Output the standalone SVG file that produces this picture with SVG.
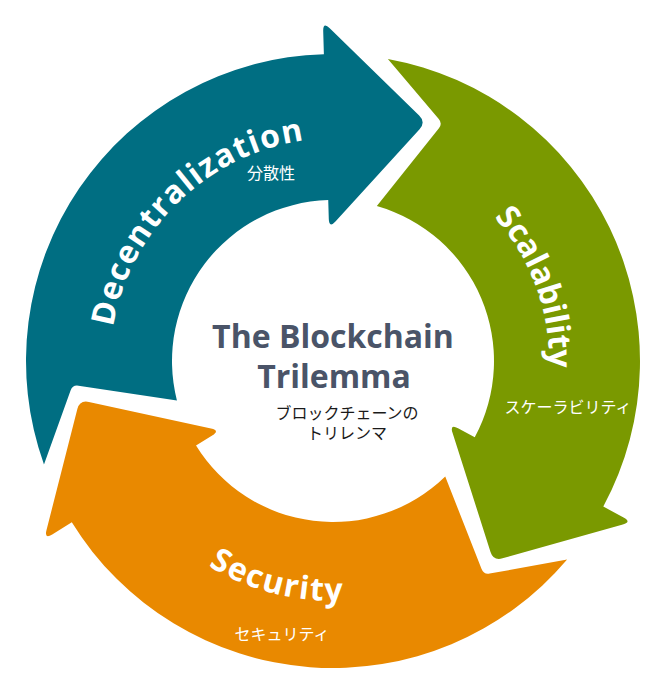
<svg xmlns="http://www.w3.org/2000/svg" width="672" height="692" viewBox="0 0 672 692">
<defs>
<path id="arrow" d="M -291.97 94.87 A 307 307 0 0 1 0 -307 L 0 -330 Q 0 -339.5 6.6 -332.7 L 93.4 -242.8 Q 100 -236 93.4 -229.2 L 6.6 -139.3 Q 0 -132.5 0 -142 L 0 -161 A 161 161 0 0 0 -157.18 34.85 L -255.1 17.07 Q -261 16 -263.19 21.59 Z"/>
<path id="p-dec" d="M 146.1 488.0 A 227 227 0 0 1 465.2 177.7"/>
<path id="p-sca" d="M 295.5 148.3 A 216 216 0 0 1 441 548.1"/>
<path id="p-sec" d="M 93.7 343.0 A 240 240 0 0 0 551.7 459.8"/>
</defs>
<style>
.arc-label { font-family: "Open Sans", "Liberation Sans", sans-serif; font-weight: 700; font-size: 32px; fill: #ffffff; }
.jp { font-family: "Noto Sans CJK JP", sans-serif; font-size: 16px; text-anchor: middle; }
.jp-w { fill: #ffffff; }
.jp-k { fill: #1a1a1a; }
.title { font-family: "Open Sans", "Liberation Sans", sans-serif; font-weight: 700; font-size: 32px; fill: #4a5468; text-anchor: middle; }
</style>
<rect width="672" height="692" fill="#ffffff"/>
<g id="node-decentralization">
<use href="#arrow" transform="translate(333 361) rotate(-1.7)" fill="#006e82"/>
<text class="arc-label" letter-spacing="1.3"><textPath href="#p-dec" startOffset="50%" text-anchor="middle">Decentralization</textPath></text>
<text class="jp jp-w" x="271" y="179" font-size="17">分散性</text>
</g>
<g id="node-scalability">
<use href="#arrow" transform="translate(333 361) rotate(118.3)" fill="#7a9900"/>
<text class="arc-label" font-weight="600"><textPath href="#p-sca" startOffset="50%" text-anchor="middle">Scalability</textPath></text>
<text class="jp jp-w" x="568" y="413">スケーラビリティ</text>
</g>
<g id="node-security">
<use href="#arrow" transform="translate(333 361) rotate(238.3)" fill="#e98900"/>
<text class="arc-label" letter-spacing="1.5"><textPath href="#p-sec" startOffset="50%" text-anchor="middle">Security</textPath></text>
<text class="jp jp-w" x="282" y="640">セキュリティ</text>
</g>
<g id="node-center">
<text class="title" x="333" y="348">The Blockchain</text>
<text class="title" x="334" y="388">Trilemma</text>
<text class="jp jp-k" font-size="15.5"><tspan x="347" y="419">ブロックチェーンの</tspan><tspan x="347" y="439">トリレンマ</tspan></text>
</g>
</svg>
